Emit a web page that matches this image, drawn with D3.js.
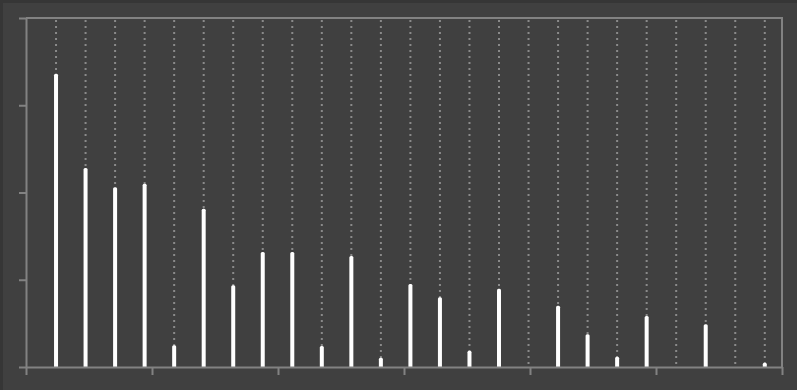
<!DOCTYPE html>
<html>
<head>
<meta charset="utf-8">
<script src="https://cdn.jsdelivr.net/npm/d3@7/dist/d3.min.js"></script>
<style>
  html, body { margin: 0; padding: 0; background: #363636; }
  svg { display: block; }
</style>
</head>
<body>
<svg id="chart" width="797" height="390"></svg>
<script>
// Category positions (1..25) and the value measured at each one
const categories = d3.range(1, 26);
const values = [16.8, 11.4, 10.3, 10.5, 1.25, 9.07, 4.68, 6.59, 6.59, 1.2,
                6.36, 0.53, 4.76, 4.0, 0.93, 4.49, 0, 3.51, 1.87, 0.59,
                2.92, 0, 2.45, 0, 0.25];
const yTicks = [0, 5, 10, 15, 20];
const xTicks = d3.range(0, 7).map(k => k * 25.6 / 6);

const W = 797, H = 390;
const margin = { top: 18, right: 15, bottom: 23, left: 26 };
const svg = d3.select("#chart");

// panel background with a thin darker rim on top/left
svg.append("rect").attr("x", 0).attr("y", 0).attr("width", W).attr("height", H).attr("fill", "#363636");
svg.append("rect").attr("x", 3).attr("y", 3).attr("width", W - 3).attr("height", H - 3).attr("fill", "#404040");

const x = d3.scaleLinear().domain([0, 25.6]).range([margin.left, W - margin.right]);
const y = d3.scaleLinear().domain([0, 20]).range([H - margin.bottom, margin.top]);

const axisColor = "#828282";

// dotted vertical guides at each category
svg.append("g").selectAll("line").data(categories).join("line")
  .attr("x1", d => x(d) + 0.5).attr("x2", d => x(d) + 0.5)
  .attr("y1", y(20) + 2).attr("y2", y(0))
  .attr("stroke", "#8a8a8a").attr("stroke-width", 2)
  .attr("stroke-dasharray", "2,4");

// thin bars with slightly rounded tops
const bw = 4, r = 1.5;
svg.append("g").selectAll("path").data(categories.filter((d, i) => values[i] > 0)).join("path")
  .attr("fill", "#ffffff")
  .attr("d", d => {
    const v = values[d - 1];
    const x0 = x(d) + 0.5 - bw / 2, x1 = x0 + bw;
    const yt = y(v), yb = y(0);
    const rr = Math.min(r, (yb - yt) / 2);
    return `M${x0},${yb}V${yt + rr}Q${x0},${yt} ${x0 + rr},${yt}H${x1 - rr}Q${x1},${yt} ${x1},${yt + rr}V${yb}Z`;
  });

// frame: top and right edges
svg.append("line").attr("x1", x(0)).attr("x2", x(25.6) + 1).attr("y1", y(20)).attr("y2", y(20))
  .attr("stroke", axisColor).attr("stroke-width", 2);
svg.append("line").attr("x1", x(25.6)).attr("x2", x(25.6)).attr("y1", y(20)).attr("y2", y(0))
  .attr("stroke", axisColor).attr("stroke-width", 2);

// left axis, ticks only
const gy = svg.append("g").attr("transform", `translate(${x(0)},0)`)
  .call(d3.axisLeft(y).tickValues(yTicks).tickSize(7).tickSizeOuter(0).tickFormat(""));
// bottom axis, ticks only
const gx = svg.append("g").attr("transform", `translate(0,${y(0)})`)
  .call(d3.axisBottom(x).tickValues(xTicks).tickSize(8).tickSizeOuter(0).tickFormat(""));

[gy, gx].forEach(g => {
  g.selectAll("path.domain").attr("stroke", axisColor).attr("stroke-width", 2);
  g.selectAll(".tick line").attr("stroke", axisColor).attr("stroke-width", 2);
});
</script>
</body>
</html>
